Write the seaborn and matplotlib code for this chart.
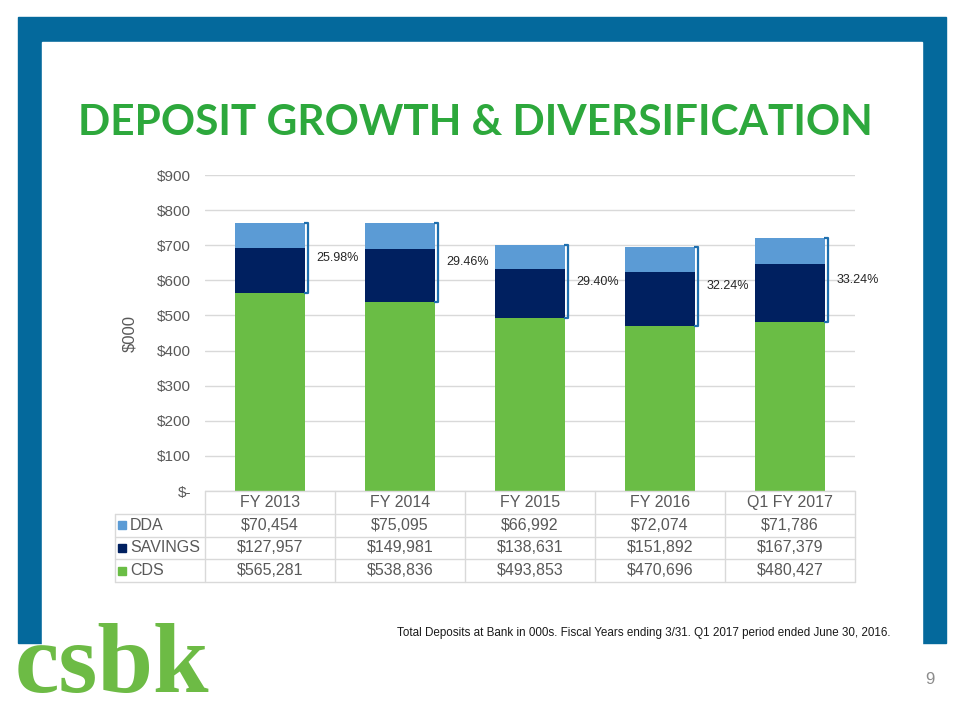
#! /usr/bin/env python
"""
Deposit growth & diversification slide: stacked bars with data table below
"""

import numpy as np
import pandas as pd
import seaborn as sns
import matplotlib.pyplot as plt
from matplotlib.patches import Rectangle

# Data (deposits in $000)
periods = ["FY 2013", "FY 2014", "FY 2015", "FY 2016", "Q1 FY 2017"]
series = ["DDA", "SAVINGS", "CDS"]
dda = [70454, 75095, 66992, 72074, 71786]
savings = [127957, 149981, 138631, 151892, 167379]
cds = [565281, 538836, 493853, 470696, 480427]
yticks = [0, 100, 200, 300, 400, 500, 600, 700, 800, 900]
ytick_labels = ["$-", "$100", "$200", "$300", "$400", "$500", "$600", "$700", "$800", "$900"]

colors = {"DDA": "#5b9bd5", "SAVINGS": "#002060", "CDS": "#6abd45"}
FRAME = "#04699c"
TITLE_GREEN = "#2da83c"
GRID = "#d9d9d9"
TEXT = "#595959"

W, H = 960, 720


def px(x0, y0, x1, y1):
    """Pixel box (top-left origin) -> figure fraction rect"""
    return [x0 / W, 1 - y1 / H, (x1 - x0) / W, (y1 - y0) / H]


sns.set_style("white")
plt.rcParams["font.family"] = ["Liberation Sans", "DejaVu Sans"]

fig = plt.figure(figsize=(W / 100, H / 100), dpi=100)

# slide frame
fig.patches.append(Rectangle((18 / W, 1 - 643 / H), (946 - 18) / W, (643 - 17) / H,
                             transform=fig.transFigure, color=FRAME, zorder=-2))
fig.patches.append(Rectangle((42 / W, 0), (922 - 42) / W, 1 - 42 / H,
                             transform=fig.transFigure, color="white", zorder=-1))

fig.text(78 / W, 1 - 135 / H, "DEPOSIT GROWTH & DIVERSIFICATION", color=TITLE_GREEN,
         fontsize=30.5, fontweight="bold", family=["Lato", "DejaVu Sans"], va="baseline")

df = pd.DataFrame({"period": periods, "DDA": dda, "SAVINGS": savings, "CDS": cds})
df["low"] = df["CDS"] / 1000
df["mid"] = (df["CDS"] + df["SAVINGS"]) / 1000
df["top"] = (df["CDS"] + df["SAVINGS"] + df["DDA"]) / 1000

ax = fig.add_axes(px(205, 175, 855, 491))
ax.set_facecolor("none")
bar_w = 0.54
for col, name in [("top", "DDA"), ("mid", "SAVINGS"), ("low", "CDS")]:
    sns.barplot(data=df, x="period", y=col, color=colors[name], width=bar_w,
                saturation=1, linewidth=0, ax=ax)

ax.set_xlim(-0.5, 4.5)
ax.set_ylim(0, 900)
ax.set_yticks(yticks)
ax.set_yticklabels(ytick_labels, color=TEXT, fontsize=11)
ax.set_xticks([])
ax.set_xlabel("")
ax.set_ylabel("$000", color=TEXT, fontsize=12, labelpad=14)
ax.tick_params(axis="y", length=0, pad=10)
ax.yaxis.grid(True, color=GRID, lw=1)
ax.set_axisbelow(True)
sns.despine(ax=ax, left=True, bottom=True)

# brackets around the non-CD share
for i, row in df.iterrows():
    x = i + bar_w / 2 + 0.025
    y0, y1 = row["low"], row["top"]
    ax.plot([x - 0.035, x, x, x - 0.035], [y0, y0, y1, y1], color="#1f6fae", lw=1.6,
            solid_capstyle="butt", clip_on=False)
    pct = (row["DDA"] + row["SAVINGS"]) / (row["DDA"] + row["SAVINGS"] + row["CDS"]) * 100
    ax.text(x + 0.06, (y0 + y1) / 2, f"{pct:.2f}%", fontsize=9, color="#262626", va="center")

# data table
tax = fig.add_axes(px(115, 491, 855, 582))
xmin = -0.5 - 90 / 130
tax.set_xlim(xmin, 4.5)
tax.set_ylim(4, 0)
tax.axis("off")
lk = dict(color=GRID, lw=1, clip_on=False)
tax.plot([-0.5, 4.5], [0, 0], **lk)
for k in range(6):
    tax.plot([-0.5 + k, -0.5 + k], [0, 4], **lk)
for r in range(1, 5):
    tax.plot([xmin, 4.5], [r, r], **lk)
tax.plot([xmin, xmin], [1, 4], **lk)

for i, p in enumerate(periods):
    tax.text(i, 0.5, p, ha="center", va="center", fontsize=11.5, color=TEXT)
values = {"DDA": dda, "SAVINGS": savings, "CDS": cds}
for r, name in enumerate(series, start=1):
    sq_w, sq_h = 8 / 130, 8 / 22.75
    tax.add_patch(Rectangle((xmin + 3 / 130, r + 0.5 - sq_h / 2), sq_w, sq_h,
                            color=colors[name], clip_on=False))
    tax.text(xmin + 15 / 130, r + 0.5, name, ha="left", va="center", fontsize=11.5, color=TEXT)
    for i, v in enumerate(values[name]):
        tax.text(i, r + 0.5, f"${v:,d}", ha="center", va="center", fontsize=11.5, color=TEXT)

fig.text(397 / W, 1 - 633 / H,
         "Total Deposits at Bank in 000s. Fiscal Years ending 3/31. Q1 2017 period ended June 30, 2016.",
         fontsize=8.4, color="#1a1a1a", va="center")
fig.text(930 / W, 1 - 680 / H, "9", fontsize=12, color="#8c8c8c", ha="center", va="center")
fig.text(15 / W, 1 - 692 / H, "csbk", fontsize=72, fontweight="bold", color="#6dbb45",
         family=["Liberation Serif", "DejaVu Serif"], va="baseline")

plt.savefig("out.png", dpi=100)
